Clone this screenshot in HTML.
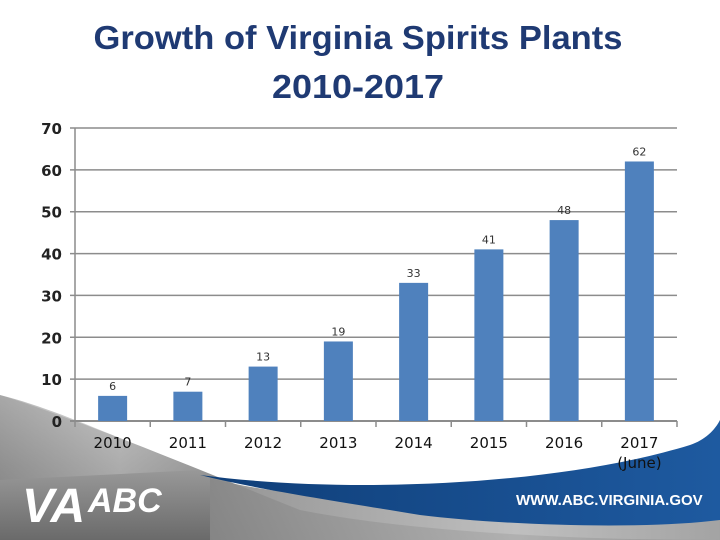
<!DOCTYPE html>
<html><head><meta charset="utf-8"><style>
body{margin:0;width:720px;height:540px;overflow:hidden;background:#fff;font-family:"Liberation Sans",sans-serif}
svg{display:block}
</style></head><body>
<svg width="720" height="540">
<defs>
<linearGradient id="metal" x1="0" y1="0" x2="0" y2="1">
<stop offset="0" stop-color="#d8d8d8"/><stop offset="0.5" stop-color="#9a9a9a"/><stop offset="1" stop-color="#6a6a6a"/></linearGradient>
<linearGradient id="metal2" x1="0" y1="0" x2="1" y2="0">
<stop offset="0" stop-color="#888"/><stop offset="0.6" stop-color="#b8b8b8"/><stop offset="1" stop-color="#999"/></linearGradient>
<linearGradient id="blue" x1="0" y1="0" x2="1" y2="0">
<stop offset="0" stop-color="#0f3e78"/><stop offset="1" stop-color="#1e5aa0"/></linearGradient>
</defs>
<g>
<path d="M0,395 C80,420 200,470 300,510 C400,530 560,540 720,540 L0,540 Z" fill="url(#metal)"/>
<path d="M0,395 C60,410 120,440 200,470 L0,480 Z" fill="url(#metal2)" opacity="0.6"/>
<path d="M210,478 C330,510 500,500 720,455 L720,540 L210,540 Z" fill="url(#metal2)" opacity="0.9"/>
<path d="M200,475 C350,495 560,485 690,445 C705,440 715,430 720,420 L720,520 C640,530 500,525 420,515 C330,500 260,490 200,475 Z" fill="url(#blue)"/>
</g>
<g>
<text x="22" y="522" font-size="48" font-weight="bold" font-style="italic" fill="#fff">VA</text>
<text x="88" y="512" font-size="34" font-weight="bold" font-style="italic" fill="#fff">ABC</text>
<text x="516" y="505" font-size="15" font-weight="bold" fill="#fff">WWW.ABC.VIRGINIA.GOV</text>
</g>
<g font-family="'Liberation Sans',sans-serif" font-weight="bold" fill="#1f3a73" font-size="33" text-anchor="middle">
<text x="358" y="49" textLength="529" lengthAdjust="spacingAndGlyphs">Growth of Virginia Spirits Plants</text>
<text x="358" y="98" textLength="172" lengthAdjust="spacingAndGlyphs">2010-2017</text>
</g>
<g id="chart"></g>
</svg>
<script>
const categories=["2010","2011","2012","2013","2014","2015","2016","2017"];
const values=[6,7,13,19,33,41,48,62];
const yTicks=[0,10,20,30,40,50,60,70];
const NS="http://www.w3.org/2000/svg";
const g=document.getElementById('chart');
const x0=75,x1=677,yBase=421,yTop=128,yMax=70;
const y=v=>yBase-(v/yMax)*(yBase-yTop);
const bw=(x1-x0)/categories.length;
const xc=i=>x0+bw*(i+0.5);
function mk(tag,attrs,txt){const e=document.createElementNS(NS,tag);for(const k in attrs)e.setAttribute(k,attrs[k]);if(txt!=null)e.textContent=txt;g.appendChild(e);return e;}
yTicks.forEach(t=>{
 const l=mk('line',{x1:x0-5,x2:x1,y1:y(t),y2:y(t),stroke:'#8c8c8c','stroke-width':t===0?2:1.5});
 
 
 const tx=mk('text',{x:x0-13,y:y(t)+6,'text-anchor':'end','font-size':15,'font-weight':'bold',fill:'#222','font-family':"'DejaVu Sans',sans-serif"},t);
 
 
});
const ax=mk('line',{x1:x0,x2:x0,y1:yTop,y2:yBase,stroke:'#8c8c8c','stroke-width':1.5});


for(let i=0;i<=categories.length;i++){
 const tk=mk('line',{x1:x0+bw*i,x2:x0+bw*i,y1:yBase,y2:yBase+6,stroke:'#8c8c8c','stroke-width':1.5});
 
 
}
categories.forEach((c,i)=>{
 const v=values[i];
 const r=mk('rect',{x:xc(i)-14.5,y:y(v),width:29,height:yBase-y(v),fill:'#4f81bd'});
 
 
 const lb=mk('text',{x:xc(i),y:y(v)-6,'text-anchor':'middle','font-size':11,fill:'#333','font-family':"'DejaVu Sans',sans-serif"},v);
 
 
 const xl=mk('text',{x:xc(i),y:448,'text-anchor':'middle','font-size':15,fill:'#111','font-family':"'DejaVu Sans',sans-serif"},c);
 
 
});
const jn=mk('text',{x:xc(7),y:468,'text-anchor':'middle','font-size':15,fill:'#111','font-family':"'DejaVu Sans',sans-serif"},'(June)');


</script>
</body></html>
